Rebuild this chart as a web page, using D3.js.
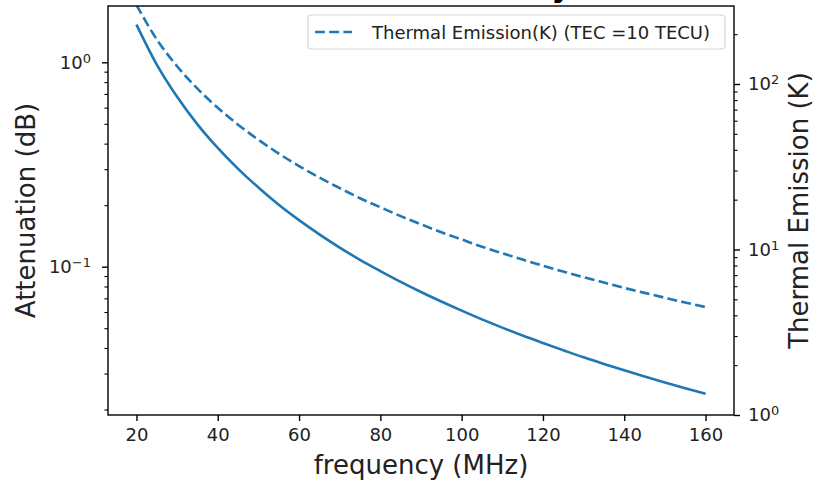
<!DOCTYPE html>
<html>
<head>
<meta charset="utf-8">
<script src="https://cdn.jsdelivr.net/npm/d3@7"></script>
<style>
  body { margin: 0; background: #fff; }
  svg { display: block; }
  text { font-family: "DejaVu Sans", sans-serif; }
</style>
</head>
<body>
<div id="chart"></div>
<script>
// frequency samples (MHz)
const freq = [20, 25, 30, 35, 40, 45, 50, 55, 60, 65, 70, 75, 80, 85, 90, 95,
  100, 105, 110, 115, 120, 125, 130, 135, 140, 145, 150, 155, 160];
// attenuation (dB), solid line, left axis
const attenuation = [1.53, 0.975, 0.678, 0.497, 0.381, 0.301, 0.244, 0.201, 0.169,
  0.144, 0.124, 0.108, 0.0952, 0.0843, 0.0752, 0.0675, 0.0609, 0.0552, 0.0503,
  0.0460, 0.0423, 0.0390, 0.0360, 0.0334, 0.0311, 0.0290, 0.0271, 0.0254, 0.0239];
// thermal emission (K), dashed line, right axis
const thermal = [300, 186, 128, 93.8, 71.8, 56.8, 46.0, 38.0, 31.9, 27.2, 23.5,
  20.4, 18.0, 15.9, 14.2, 12.7, 11.5, 10.4, 9.50, 8.69, 7.98, 7.36, 6.80, 6.31,
  5.86, 5.47, 5.11, 4.78, 4.49];

const xTicks = [20, 40, 60, 80, 100, 120, 140, 160];
const leftMajor = [0.1, 1];
const leftMinor = [0.02, 0.03, 0.04, 0.05, 0.06, 0.07, 0.08, 0.09,
  0.2, 0.3, 0.4, 0.5, 0.6, 0.7, 0.8, 0.9];
const rightMajor = [1, 10, 100];
const rightMinor = [2, 3, 4, 5, 6, 7, 8, 9, 20, 30, 40, 50, 60, 70, 80, 90, 200];

const legendLabel = "Thermal Emission(K) (TEC =10 TECU)";
const titleText = "Attenuation and Thermal Emission Intensity";

const W = 813, H = 482;
const pLeft = 108, pRight = 734, pTop = 6, pBottom = 415;
const blue = "#1f77b4";

const svg = d3.select("#chart").append("svg")
  .attr("width", W).attr("height", H);

const x = d3.scaleLinear().domain([13, 167]).range([pLeft, pRight]);
const yL = d3.scaleLog().domain([0.0188, 1.886]).range([pBottom, pTop]);
const yR = d3.scaleLog().domain([1, 296]).range([pBottom, pTop]);

svg.append("clipPath").attr("id", "clip")
  .append("rect")
  .attr("x", pLeft).attr("y", pTop)
  .attr("width", pRight - pLeft).attr("height", pBottom - pTop);

// title (mostly cut off above the frame, as in the original)
svg.append("text")
  .attr("x", 571).attr("y", -3)
  .attr("text-anchor", "end")
  .style("font-size", "30px")
  .style("font-weight", "bold")
  .text(titleText);

const pts = freq.map((f, i) => ({f: f, a: attenuation[i], t: thermal[i]}));

const lineA = d3.line().x(d => x(d.f)).y(d => yL(d.a)).curve(d3.curveMonotoneX);
const lineT = d3.line().x(d => x(d.f)).y(d => yR(d.t)).curve(d3.curveMonotoneX);

const plot = svg.append("g").attr("clip-path", "url(#clip)");
plot.append("path").datum(pts)
  .attr("d", lineA)
  .attr("fill", "none")
  .attr("stroke", blue)
  .attr("stroke-width", 2.6);
plot.append("path").datum(pts)
  .attr("d", lineT)
  .attr("fill", "none")
  .attr("stroke", blue)
  .attr("stroke-width", 2.6)
  .attr("stroke-dasharray", "9.9,4.3");

function supLabel(sel) {
  sel.each(function(d) {
    const t = d3.select(this);
    const e = Math.round(Math.log10(d));
    t.text("");
    t.append("tspan").text("10");
    t.append("tspan")
      .attr("dy", "-0.45em")
      .style("font-size", "13px")
      .text(e < 0 ? "\u2212" + (-e) : String(e));
  });
}

// x axis
const gx = svg.append("g")
  .attr("transform", "translate(0," + pBottom + ")")
  .call(d3.axisBottom(x).tickValues(xTicks).tickSize(6).tickPadding(7));
gx.select(".domain").remove();
gx.selectAll("text").style("font-size", "18px").attr("fill", "#222");
gx.selectAll("line").attr("stroke", "#000").attr("stroke-width", 1.4);

// left axis
const gl = svg.append("g").attr("transform", "translate(" + pLeft + ",0)");
gl.append("g").call(d3.axisLeft(yL).tickValues(leftMinor).tickSize(3.6).tickFormat(""))
  .call(g => g.select(".domain").remove())
  .selectAll("line").attr("stroke", "#000").attr("stroke-width", 1.1);
const glM = gl.append("g").call(d3.axisLeft(yL).tickValues(leftMajor).tickSize(6).tickPadding(11));
glM.select(".domain").remove();
glM.selectAll("line").attr("stroke", "#000").attr("stroke-width", 1.4);
glM.selectAll("text").style("font-size", "18px").attr("fill", "#222").call(supLabel);

// right axis
const gr = svg.append("g").attr("transform", "translate(" + pRight + ",0)");
gr.append("g").call(d3.axisRight(yR).tickValues(rightMinor).tickSize(3.6).tickFormat(""))
  .call(g => g.select(".domain").remove())
  .selectAll("line").attr("stroke", "#000").attr("stroke-width", 1.1);
const grM = gr.append("g").call(d3.axisRight(yR).tickValues(rightMajor).tickSize(6).tickPadding(8));
grM.select(".domain").remove();
grM.selectAll("line").attr("stroke", "#000").attr("stroke-width", 1.4);
grM.selectAll("text").style("font-size", "18px").attr("fill", "#222").call(supLabel);

// frame
svg.append("rect")
  .attr("x", pLeft).attr("y", pTop)
  .attr("width", pRight - pLeft).attr("height", pBottom - pTop)
  .attr("fill", "none")
  .attr("stroke", "#000")
  .attr("stroke-width", 1.4);

// axis labels
svg.append("text")
  .attr("x", (pLeft + pRight) / 2).attr("y", 474)
  .attr("text-anchor", "middle")
  .style("font-size", "26px").attr("fill", "#222")
  .text("frequency (MHz)");
svg.append("text")
  .attr("transform", "translate(35," + (pTop + pBottom) / 2 + ") rotate(-90)")
  .attr("text-anchor", "middle")
  .style("font-size", "26px").attr("fill", "#222")
  .text("Attenuation (dB)");
svg.append("text")
  .attr("transform", "translate(808," + (pTop + pBottom) / 2 + ") rotate(-90)")
  .attr("text-anchor", "middle")
  .style("font-size", "26px").attr("fill", "#222")
  .text("Thermal Emission (K)");

// legend
const lg = svg.append("g");
lg.append("rect")
  .attr("x", 308).attr("y", 15)
  .attr("width", 417).attr("height", 34)
  .attr("rx", 3.5)
  .attr("fill", "#fff").attr("fill-opacity", 0.8)
  .attr("stroke", "#d6d6d6").attr("stroke-width", 1.2);
lg.append("line")
  .attr("x1", 315).attr("x2", 352)
  .attr("y1", 32).attr("y2", 32)
  .attr("stroke", blue).attr("stroke-width", 2.6)
  .attr("stroke-dasharray", "9.9,4.3");
lg.append("text")
  .attr("x", 372).attr("y", 39)
  .style("font-size", "18px").attr("fill", "#222")
  .text(legendLabel);
</script>
</body>
</html>
